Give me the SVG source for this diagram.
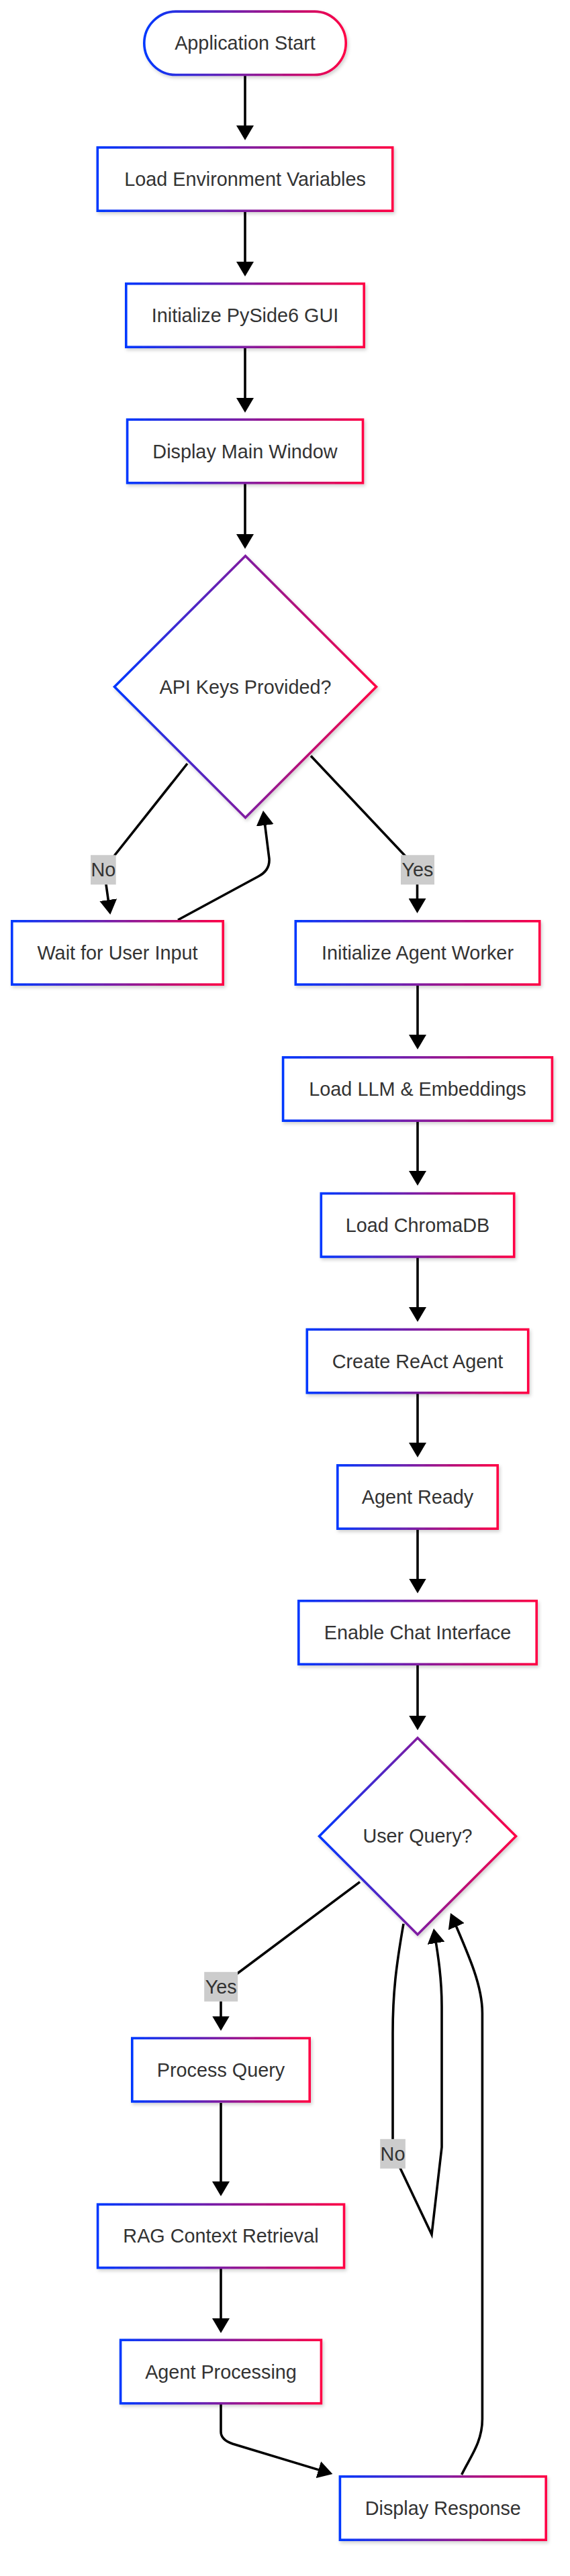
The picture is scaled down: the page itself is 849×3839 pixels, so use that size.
<svg xmlns="http://www.w3.org/2000/svg" width="849" height="3839" viewBox="0 0 849 3839">
<style>
.node rect,.node polygon{fill:#fff;stroke:url(#g);stroke-width:3.6;filter:url(#sh)}
.lbl{font-family:"Liberation Sans",Arial,sans-serif;font-size:28.8px;fill:#333;text-anchor:middle;dominant-baseline:central}
.edge{fill:none;stroke:#000;stroke-width:3.6;marker-end:url(#arr)}
.elbl rect{fill:#ccc}
</style>
<defs>
<linearGradient id="g" x1="0" y1="0" x2="1" y2="0">
<stop offset="0" stop-color="#0038ff"/>
<stop offset="1" stop-color="#ff0044"/>
</linearGradient>
<filter id="sh" x="-10%" y="-10%" width="130%" height="140%">
<feDropShadow dx="2" dy="3" stdDeviation="2.5" flood-color="#000" flood-opacity="0.18"/>
</filter>
<marker id="arr" markerUnits="userSpaceOnUse" markerWidth="22" markerHeight="26" viewBox="0 0 22 26" refX="17" refY="13" orient="auto">
<path d="M0,0 L22,13 L0,26 z" fill="#000"/>
</marker>
</defs>
<g id="connectors">
<path class="edge" d="M365,113 L365,204"/>
<path class="edge" d="M365,316 L365,407"/>
<path class="edge" d="M365,519 L365,610"/>
<path class="edge" d="M365,721 L365,813"/>
<path class="edge" d="M279,1138 L172,1273 Q157,1292 158,1318 L163.6,1358"/>
<path class="edge" d="M265,1371 L385,1306 Q402,1297 401,1280 L392.6,1213"/>
<path class="edge" d="M463,1126.5 L603,1275 Q621.5,1295 621.5,1318 L621.5,1356"/>
<path class="edge" d="M622,1469 L622,1559"/>
<path class="edge" d="M622,1671 L622,1762"/>
<path class="edge" d="M622,1874 L622,1965"/>
<path class="edge" d="M622,2077 L622,2167"/>
<path class="edge" d="M622,2280 L622,2369.5"/>
<path class="edge" d="M622,2482 L622,2573.6"/>
<path class="edge" d="M536,2804.6 L355,2940 Q329,2958 329,2983 L329,3021.5"/>
<path class="edge" d="M329,3134 L329,3268"/>
<path class="edge" d="M329,3381 L329,3472"/>
<path class="edge" d="M329,3583 L329,3624 Q329,3636 346.5,3642 L490.6,3685.6"/>
<path class="edge" d="M687.6,3688 C700,3662 718.4,3640 718.4,3605 L718.4,3000 C718.4,2960 700,2918 673,2855.6"/>
<path class="edge" d="M601,2867 C590,2930 585,2970 585,3030 L585,3200 Q587,3215 596,3231 L643,3330 L658,3200 L658,2990 C658,2950 652.8,2915 646.8,2879"/>
<g class="elbl" id="lbl-no-1"><rect x="135" y="1274.3" width="37.7" height="44"/><text class="lbl" x="153.9" y="1296.3">No</text></g>
<g class="elbl" id="lbl-yes-1"><rect x="597" y="1274.3" width="50" height="44"/><text class="lbl" x="622" y="1296.3">Yes</text></g>
<g class="elbl" id="lbl-yes-2"><rect x="304.2" y="2938.8" width="50" height="44"/><text class="lbl" x="329.2" y="2960.8">Yes</text></g>
<g class="elbl" id="lbl-no-2"><rect x="566.2" y="3187.8" width="37.7" height="44"/><text class="lbl" x="585" y="3209.8">No</text></g>
</g>
<g id="start" class="node"><rect x="214.8" y="17.1" width="300.4" height="94.4" rx="47.2" ry="47.2"/><text class="lbl" x="365" y="64.3">Application Start</text></g>
<g id="env" class="node"><rect x="145.3" y="219.8" width="439.4" height="94.4"/><text class="lbl" x="365" y="267">Load Environment Variables</text></g>
<g id="gui" class="node"><rect x="187.8" y="422.8" width="354.4" height="94.4"/><text class="lbl" x="365" y="470">Initialize PySide6 GUI</text></g>
<g id="mainwin" class="node"><rect x="189.6" y="625.3" width="350.9" height="94.4"/><text class="lbl" x="365" y="672.5">Display Main Window</text></g>
<g id="apikeys" class="node"><polygon points="365.5,828.5 560.5,1023.5 365.5,1218.5 170.5,1023.5"/><text class="lbl" x="365.5" y="1023.5">API Keys Provided?</text></g>
<g id="wait" class="node"><rect x="17.8" y="1372.8" width="314.4" height="94.4"/><text class="lbl" x="175" y="1420">Wait for User Input</text></g>
<g id="worker" class="node"><rect x="440.3" y="1372.8" width="363.4" height="94.4"/><text class="lbl" x="622" y="1420">Initialize Agent Worker</text></g>
<g id="llm" class="node"><rect x="421.6" y="1575.8" width="400.8" height="94.4"/><text class="lbl" x="622" y="1623">Load LLM &amp; Embeddings</text></g>
<g id="chroma" class="node"><rect x="478.3" y="1778.6" width="287.4" height="94.4"/><text class="lbl" x="622" y="1825.8">Load ChromaDB</text></g>
<g id="react" class="node"><rect x="457.3" y="1981.3" width="329.4" height="94.4"/><text class="lbl" x="622" y="2028.5">Create ReAct Agent</text></g>
<g id="ready" class="node"><rect x="502.8" y="2183.8" width="238.4" height="94.4"/><text class="lbl" x="622" y="2231">Agent Ready</text></g>
<g id="chat" class="node"><rect x="444.8" y="2385.8" width="354.4" height="94.4"/><text class="lbl" x="622" y="2433">Enable Chat Interface</text></g>
<g id="query" class="node"><polygon points="622,2590 768.5,2736.5 622,2883 475.5,2736.5"/><text class="lbl" x="622" y="2736">User Query?</text></g>
<g id="process" class="node"><rect x="196.8" y="3037.5" width="264.4" height="94.4"/><text class="lbl" x="329" y="3084.7">Process Query</text></g>
<g id="rag" class="node"><rect x="145.6" y="3285.2" width="366.9" height="94.4"/><text class="lbl" x="329" y="3332.4">RAG Context Retrieval</text></g>
<g id="agentproc" class="node"><rect x="179.6" y="3487.3" width="298.8" height="94.4"/><text class="lbl" x="329" y="3534.5">Agent Processing</text></g>
<g id="response" class="node"><rect x="506.4" y="3690.8" width="306.8" height="94.4"/><text class="lbl" x="659.8" y="3738">Display Response</text></g>
</svg>
